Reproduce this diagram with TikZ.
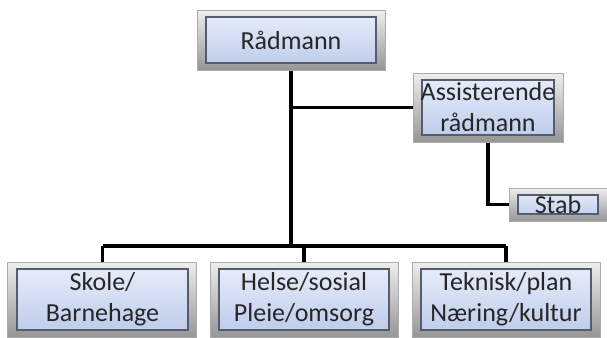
\documentclass[tikz,border=0pt]{standalone}
\usepackage{fontspec}
\setmainfont{Carlito}
\usetikzlibrary{calc}
\definecolor{frametop}{RGB}{238,238,238}
\definecolor{framebot}{RGB}{150,150,150}
\definecolor{boxtop}{RGB}{234,239,250}
\definecolor{boxbot}{RGB}{186,201,234}
\definecolor{boxline}{RGB}{85,92,110}
\tikzset{
  orgbox/.style={draw=gray!65, line width=0.5pt, top color=frametop, bottom color=framebot,
    align=center, text=black!85, inner sep=0pt,
    font=\fontsize{13}{15.5}\selectfont,
    path picture={
      \draw[boxline, line width=0.7pt, top color=boxtop, bottom color=boxbot]
        ($(path picture bounding box.north west)+(4.5pt,-3.5pt)$) rectangle
        ($(path picture bounding box.south east)+(-4.5pt,3.5pt)$);
    }},
  link/.style={line width=1.6pt, black}
}
\begin{document}
\begin{tikzpicture}[x=0.5pt, y=-0.5pt]
                \useasboundingbox (0,0) rectangle (607,338);

                % Top boxes
                \node[orgbox, minimum width=94pt, minimum height=30pt] (radmann) at (291,40) {Rådmann};
                \node[orgbox, minimum width=75pt, minimum height=34.5pt] (assist) at (488,107.5) {Assisterende\\rådmann};
                \node[orgbox, minimum width=49pt, minimum height=16.5pt] (stab) at (558,204.5) {Stab};

                % Bottom row
                \node[orgbox, minimum width=94.5pt, minimum height=37.5pt] (skole) at (102.5,299.5) {Skole/\\Barnehage};
                \node[orgbox, minimum width=94pt, minimum height=37.5pt] (helse) at (304,299.5) {Helse/sosial\\Pleie/omsorg};
                \node[orgbox, minimum width=94pt, minimum height=37.5pt] (teknisk) at (506,299.5) {Teknisk/plan\\Næring/kultur};

                % Bus line
                \coordinate (bus) at (291,246);
                \draw[link] (radmann.south) -- (bus);
                \draw[link] (radmann.south |- assist.west) -- (assist.west);
                \draw[link] (assist.south) -- (assist.south |- stab.west) -- (stab.west);
                \draw[link] (skole.north |- bus) -- (teknisk.north |- bus);

                % Drops to units
                \draw[link] (skole.north |- bus) -- (skole.north);
                \draw[link] (helse.north |- bus) -- (helse.north);
                \draw[link] (teknisk.north |- bus) -- (teknisk.north);
\end{tikzpicture}
\end{document}
